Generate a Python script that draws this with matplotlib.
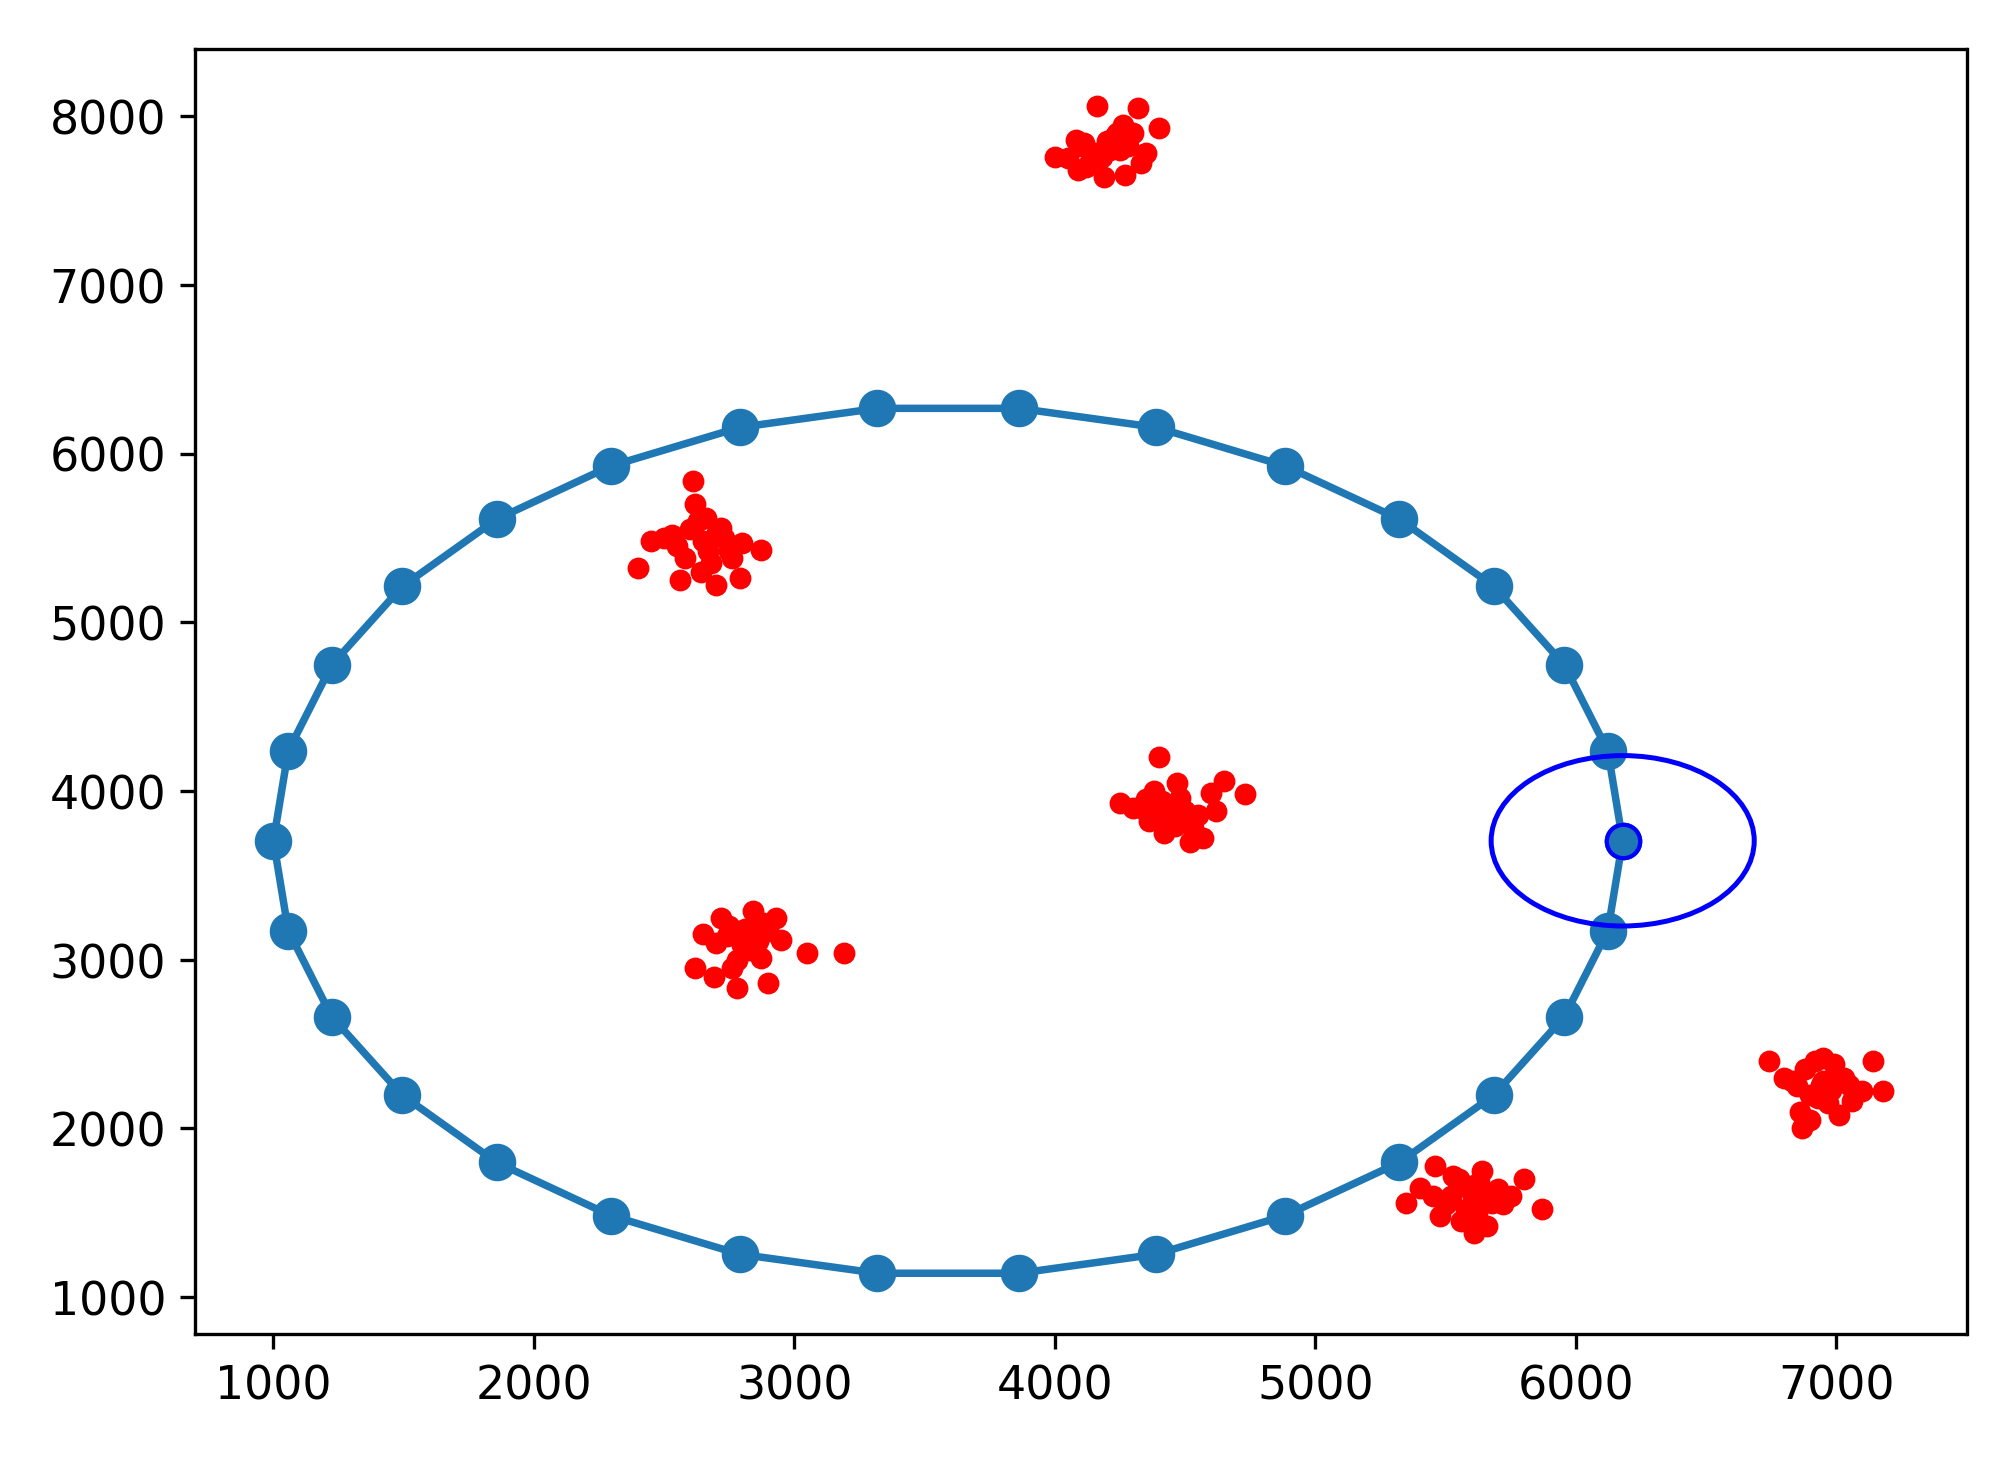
import matplotlib
matplotlib.use("Agg")
import matplotlib.pyplot as plt
from matplotlib.patches import Ellipse

# Ring of candidate points (closed loop)
ring_x = [6180, 6123, 5956, 5685, 5323, 4885, 4390, 3861, 3319, 2790, 2295, 1857,
          1495, 1224, 1057, 1000, 1057, 1224, 1495, 1857, 2295, 2790, 3319, 3861,
          4390, 4885, 5323, 5685, 5956, 6123]
ring_y = [3705, 4238, 4748, 5213, 5611, 5926, 6155, 6268, 6268, 6155, 5926, 5611,
          5213, 4748, 4238, 3705, 3172, 2662, 2197, 1799, 1484, 1255, 1142, 1142,
          1255, 1484, 1799, 2197, 2662, 3172]

# Highlighted point and its search radius
hl_x, hl_y = 6180, 3705
hl_radius = 505

# Red point clusters
red_x = [
    # cluster near (4180, 7800)
    4050, 4100, 4150, 4200, 4250, 4300, 4120, 4180, 4230, 4280, 4080, 4140, 4210,
    4260, 4330, 4160, 4320, 4400, 4000, 4090, 4190, 4240, 4350, 4110, 4270,
    # cluster near (2650, 5480)
    2500, 2550, 2600, 2650, 2700, 2750, 2800, 2580, 2630, 2680, 2730, 2620, 2670,
    2720, 2610, 2560, 2450, 2400, 2870, 2790, 2700, 2640, 2530, 2760, 2660,
    # cluster near (4450, 3900)
    4300, 4350, 4400, 4450, 4500, 4550, 4380, 4430, 4480, 4530, 4420, 4470, 4360,
    4600, 4650, 4730, 4400, 4250, 4570, 4520, 4460, 4330, 4620, 4490, 4410,
    # cluster near (2820, 3120)
    2650, 2700, 2750, 2800, 2850, 2900, 2950, 2720, 2780, 2830, 2880, 2760, 2810,
    2860, 2620, 3050, 3190, 2780, 2900, 2690, 2840, 2930, 2740, 2800, 2870,
    # cluster near (5600, 1600)
    5400, 5450, 5500, 5550, 5600, 5650, 5700, 5750, 5480, 5530, 5580, 5630, 5680,
    5560, 5610, 5350, 5870, 5800, 5640, 5520, 5720, 5590, 5460, 5660, 5620,
    # cluster near (6950, 2270)
    6800, 6850, 6900, 6950, 7000, 7050, 6880, 6930, 6980, 7030, 6920, 6970, 6860,
    7100, 7180, 6740, 6870, 7140, 7010, 6950, 6900, 6990, 6830, 7060, 6940,
]
red_y = [
    7750, 7820, 7780, 7850, 7800, 7900, 7700, 7760, 7880, 7820, 7860, 7740, 7800,
    7950, 7720, 8060, 8050, 7930, 7760, 7680, 7640, 7900, 7780, 7840, 7650,
    5500, 5450, 5550, 5480, 5520, 5420, 5470, 5380, 5600, 5350, 5500, 5700, 5420,
    5560, 5840, 5250, 5480, 5320, 5430, 5260, 5220, 5300, 5520, 5380, 5620,
    3900, 3950, 3850, 3920, 3880, 3860, 4000, 3800, 3960, 3780, 3750, 4050, 3820,
    3990, 4060, 3980, 4200, 3930, 3720, 3700, 3790, 3900, 3880, 3840, 3940,
    3150, 3100, 3200, 3130, 3080, 3170, 3120, 3250, 3000, 3060, 3220, 2950, 3180,
    3110, 2950, 3040, 3040, 2830, 2860, 2900, 3290, 3250, 3140, 3090, 3010,
    1650, 1600, 1550, 1700, 1620, 1580, 1640, 1600, 1480, 1720, 1520, 1680, 1560,
    1450, 1380, 1560, 1520, 1700, 1750, 1600, 1550, 1660, 1780, 1420, 1500,
    2300, 2250, 2200, 2280, 2320, 2260, 2350, 2180, 2230, 2300, 2400, 2150, 2100,
    2220, 2220, 2400, 2000, 2400, 2080, 2420, 2050, 2380, 2280, 2160, 2260,
]

plt.rcParams["font.size"] = 11

fig, ax = plt.subplots(figsize=(6.72, 4.863), dpi=300)

ax.scatter(red_x, red_y, color="red", s=18, zorder=2)
ax.plot(ring_x + ring_x[:1], ring_y + ring_y[:1], "-o", color="#1f77b4",
        linewidth=1.8, markersize=8, zorder=3)
ax.plot([hl_x], [hl_y], "o", color="#1f77b4", markeredgecolor="blue",
        markersize=8, zorder=4)
ax.add_patch(Ellipse((hl_x, hl_y), 2 * hl_radius, 2 * hl_radius, fill=False,
                     edgecolor="blue", linewidth=1.2, zorder=4))

ax.set_xlim(700, 7500)
ax.set_ylim(780, 8400)
ax.set_xticks(range(1000, 8000, 1000))
ax.set_yticks(range(1000, 9000, 1000))

plt.tight_layout()
fig.savefig("out.png", dpi=300)
